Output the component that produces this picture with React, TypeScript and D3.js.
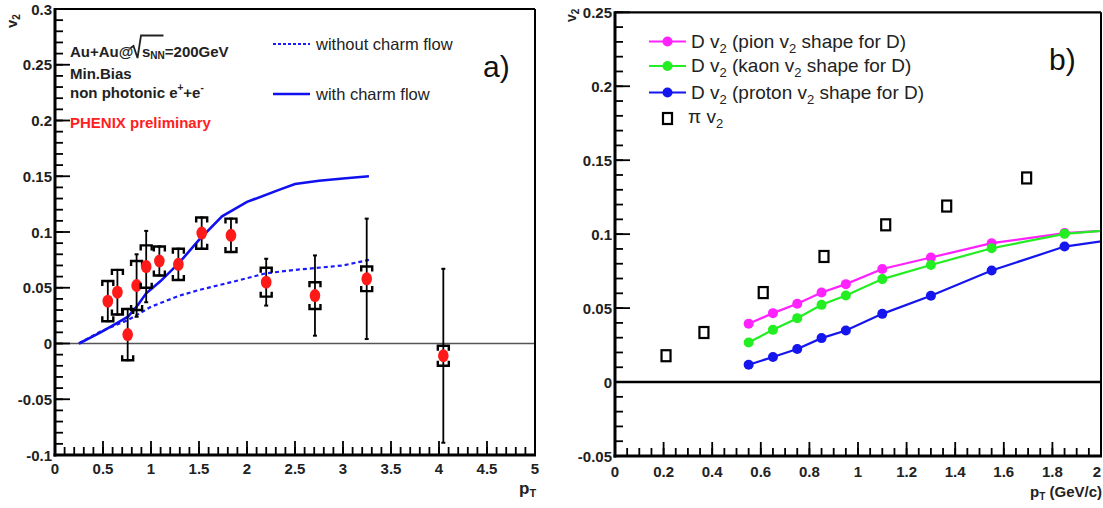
import React from 'react';
import * as d3 from 'd3';

// ---------- Panel a) data ----------
const aPt = [0.55, 0.65, 0.757, 0.85, 0.95, 1.087, 1.285, 1.528, 1.833, 2.2, 2.708, 3.247, 4.045];
const aV2 = [0.038, 0.046, 0.008, 0.052, 0.069, 0.074, 0.071, 0.099, 0.097, 0.055, 0.043, 0.058, -0.011];
const aStat = [0.018, 0.02, 0.023, 0.028, 0.032, 0.013, 0.014, 0.014, 0.015, 0.021, 0.036, 0.054, 0.078];
const aSys = [0.018, 0.02, 0.023, 0.022, 0.019, 0.013, 0.014, 0.014, 0.015, 0.013, 0.012, 0.011, 0.009];

const withPt = [0.25, 0.47, 0.64, 0.76, 0.85, 0.95, 1.1, 1.3, 1.5, 1.74, 2.0, 2.34, 2.5, 2.75, 3.0, 3.27];
const withV2 = [0, 0.0097, 0.018, 0.024, 0.033, 0.045, 0.056, 0.073, 0.093, 0.114, 0.127, 0.138, 0.143, 0.146, 0.148, 0.15];
const withoutPt = [0.25, 0.47, 0.76, 1.0, 1.3, 1.5, 1.86, 2.2, 2.5, 3.0, 3.27];
const withoutV2 = [0, 0.0106, 0.021, 0.033, 0.043, 0.048, 0.0555, 0.063, 0.066, 0.07, 0.075];

const aXMajor = [0, 0.5, 1, 1.5, 2, 2.5, 3, 3.5, 4, 4.5, 5];
const aXLabels = ['0', '0.5', '1', '1.5', '2', '2.5', '3', '3.5', '4', '4.5', '5'];
const aYMajor = [-0.1, -0.05, 0, 0.05, 0.1, 0.15, 0.2, 0.25, 0.3];
const aYLabels = ['-0.1', '-0.05', '0', '0.05', '0.1', '0.15', '0.2', '0.25', '0.3'];

// ---------- Panel b) data ----------
const piPt = [0.21, 0.366, 0.61, 0.86, 1.114, 1.365, 1.694];
const piV2 = [0.0178, 0.0335, 0.0605, 0.0849, 0.1063, 0.119, 0.138];
const dPt = [0.55, 0.65, 0.75, 0.85, 0.95, 1.1, 1.3, 1.55, 1.85, 2.25];
const dPion = [0.0394, 0.0466, 0.0529, 0.0605, 0.0662, 0.0764, 0.0842, 0.0939, 0.1007, 0.1047];
const dKaon = [0.0268, 0.0353, 0.0432, 0.0522, 0.0585, 0.0696, 0.0791, 0.0905, 0.1002, 0.1055];
const dProton = [0.0117, 0.0169, 0.0223, 0.0297, 0.0349, 0.0461, 0.0583, 0.0754, 0.0916, 0.1011];

const bXMajor = [0, 0.2, 0.4, 0.6, 0.8, 1, 1.2, 1.4, 1.6, 1.8, 2];
const bXLabels = ['0', '0.2', '0.4', '0.6', '0.8', '1', '1.2', '1.4', '1.6', '1.8', '2'];
const bYMajor = [-0.05, 0, 0.05, 0.1, 0.15, 0.2, 0.25];
const bYLabels = ['-0.05', '0', '0.05', '0.1', '0.15', '0.2', '0.25'];

const FONT = '"Liberation Sans", Arial, sans-serif';
const PAGE_W = 1103;

function range(a: number, b: number, step: number) {
  const out: number[] = [];
  const n = Math.round((b - a) / step);
  for (let i = 0; i <= n; i++) out.push(+(a + i * step).toFixed(6));
  return out;
}

function Axes({ x, y, xMajor, xLabels, xMinorStep, yMajor, yLabels, yMinorStep, labelBaseX, labelBaseY }: any) {
  const [x0, x1] = x.range();
  const [y0, y1] = y.range(); // y0 bottom, y1 top
  const [dx0, dx1] = x.domain();
  const [dy0, dy1] = y.domain();
  const xMinor = range(dx0, dx1, xMinorStep);
  const yMinor = range(dy0, dy1, yMinorStep);
  return (
    <g>
      {xMinor.map((v, i) => (
        <line key={'xm' + i} x1={x(v)} x2={x(v)} y1={y0} y2={y0 - 8} stroke="#000" strokeWidth={1.8} />
      ))}
      {xMajor.map((v: number, i: number) => (
        <line key={'xM' + i} x1={x(v)} x2={x(v)} y1={y0} y2={y0 - 14} stroke="#000" strokeWidth={1.8} />
      ))}
      {yMinor.map((v, i) => (
        <line key={'ym' + i} x1={x0} x2={x0 + 8} y1={y(v)} y2={y(v)} stroke="#000" strokeWidth={1.8} />
      ))}
      {yMajor.map((v: number, i: number) => (
        <line key={'yM' + i} x1={x0} x2={x0 + 15} y1={y(v)} y2={y(v)} stroke="#000" strokeWidth={1.8} />
      ))}
      <line x1={x0} x2={x1} y1={y1} y2={y1} stroke="#000" strokeWidth={2.2} />
      <line x1={x1} x2={x1} y1={y1} y2={y0} stroke="#000" strokeWidth={2} />
      <line x1={x0 - 1.5} x2={x1 + 1} y1={y0} y2={y0} stroke="#000" strokeWidth={3} />
      <line x1={x0} x2={x0} y1={y1 - 1} y2={y0 + 1.5} stroke="#000" strokeWidth={3} />
      {xMajor.map((v: number, i: number) => (
        <text key={'xl' + i} x={Math.min(x(v), PAGE_W - 6)} y={labelBaseY} textAnchor="middle" fontFamily={FONT} fontWeight="bold" fontSize={15} fill="#222">
          {xLabels[i]}
        </text>
      ))}
      {yMajor.map((v: number, i: number) => (
        <text key={'yl' + i} x={labelBaseX} y={y(v) + 5.5} textAnchor="end" fontFamily={FONT} fontWeight="bold" fontSize={15} fill="#222">
          {yLabels[i]}
        </text>
      ))}
    </g>
  );
}

function PanelA() {
  const x = d3.scaleLinear().domain([0, 5]).range([55, 535]);
  const y = d3.scaleLinear().domain([-0.1, 0.3]).range([455, 9]);
  const line = d3.line<[number, number]>().x((d) => x(d[0])).y((d) => y(d[1]));
  const withPath = line(withPt.map((p, i) => [p, withV2[i]]) as [number, number][]) || '';
  const withoutPath = line(withoutPt.map((p, i) => [p, withoutV2[i]]) as [number, number][]) || '';
  return (
    <g>
      <line x1={x(0)} x2={x(5)} y1={y(0)} y2={y(0)} stroke="#555" strokeWidth={1.6} />
      <path d={withoutPath} fill="none" stroke="#1a1aff" strokeWidth={2.2} strokeDasharray="4,3" />
      <path d={withPath} fill="none" stroke="#1010f0" strokeWidth={2.6} />
      {aPt.map((p, i) => {
        const cx = x(p);
        const cy = y(aV2[i]);
        const st = y(aV2[i] + aStat[i]);
        const sb = y(aV2[i] - aStat[i]);
        const yt = y(aV2[i] + aSys[i]);
        const yb = y(aV2[i] - aSys[i]);
        const w = 5.5;
        return (
          <g key={i}>
            <line x1={cx} x2={cx} y1={st} y2={sb} stroke="#000" strokeWidth={1.8} />
            <line x1={cx - 2} x2={cx + 2} y1={st} y2={st} stroke="#000" strokeWidth={2} />
            <line x1={cx - 2} x2={cx + 2} y1={sb} y2={sb} stroke="#000" strokeWidth={2} />
            <path d={`M${cx - w},${yt + 5}V${yt}H${cx + w}V${yt + 5}`} fill="none" stroke="#000" strokeWidth={2.4} />
            <path d={`M${cx - w},${yb - 5}V${yb}H${cx + w}V${yb - 5}`} fill="none" stroke="#000" strokeWidth={2.4} />
            <ellipse cx={cx} cy={cy} rx={5.3} ry={6.5} fill="#ff1a1a" />
          </g>
        );
      })}
      <Axes x={x} y={y} xMajor={aXMajor} xLabels={aXLabels} xMinorStep={0.1} yMajor={aYMajor} yLabels={aYLabels} yMinorStep={0.01} labelBaseX={52} labelBaseY={474} />
      {/* info text */}
      <g fontFamily={FONT} fontWeight="bold" fontSize={15} fill="#222">
        <text x={70} y={57}>Au+Au@</text>
        <path d="M130.5,48 L133.5,46 L137.5,58 L141,35.5 H163.5" fill="none" stroke="#222" strokeWidth={1.8} />
        <text x={142} y={57}>s<tspan fontSize={10} dy={2}>NN</tspan><tspan dy={-2}>=200GeV</tspan></text>
        <text x={70} y={79}>Min.Bias</text>
        <text x={70} y={98}>non photonic e<tspan fontSize={10} dy={-7}>+</tspan><tspan dy={7}>+e</tspan><tspan fontSize={10} dy={-7}>-</tspan></text>
        <text x={70} y={128} fill="#ff2020">PHENIX preliminary</text>
      </g>
      {/* legend */}
      <line x1={273} x2={310} y1={44} y2={44} stroke="#1a1aff" strokeWidth={1.8} strokeDasharray="3,2" />
      <text x={316} y={49.5} fontFamily={FONT} fontSize={16.5} fill="#222">without charm flow</text>
      <line x1={273} x2={310} y1={94} y2={94} stroke="#1010f0" strokeWidth={2.6} />
      <text x={316} y={99.5} fontFamily={FONT} fontSize={16.5} fill="#222">with charm flow</text>
      <text x={483} y={77} fontFamily={FONT} fontSize={30} fill="#111">a)</text>
      {/* axis titles */}
      <text transform="translate(17,28) rotate(-90)" fontFamily={FONT} fontWeight="bold" fontSize={15} fill="#222">v<tspan fontSize={10} dy={3}>2</tspan></text>
      <text x={519} y={494} fontFamily={FONT} fontWeight="bold" fontSize={17} fill="#222">p<tspan fontSize={11} dy={3}>T</tspan></text>
    </g>
  );
}

function PanelB() {
  const x = d3.scaleLinear().domain([0, 2]).range([615, 1101]);
  const y = d3.scaleLinear().domain([-0.05, 0.25]).range([456, 12.3]);
  const line = d3.line<[number, number]>().x((d) => x(d[0])).y((d) => y(d[1]));
  const series = [
    { vals: dPion, color: '#ff22ff' },
    { vals: dKaon, color: '#22ee22' },
    { vals: dProton, color: '#1515ee' },
  ];
  const legendRows = [
    { color: '#ff22ff', name: 'pion', y: 41.5 },
    { color: '#22ee22', name: 'kaon', y: 66 },
    { color: '#1515ee', name: 'proton', y: 92.5 },
  ];
  return (
    <g>
      <defs>
        <clipPath id="clipB">
          <rect x={615} y={12.3} width={486} height={443.7} />
        </clipPath>
      </defs>
      <line x1={x(0)} x2={x(2)} y1={y(0)} y2={y(0)} stroke="#000" strokeWidth={2.6} />
      <g clipPath="url(#clipB)">
        {series.map((s, si) => (
          <g key={si}>
            <path d={line(dPt.map((p, i) => [p, s.vals[i]]) as [number, number][]) || ''} fill="none" stroke={s.color} strokeWidth={2.2} />
            {dPt.map((p, i) => (
              <circle key={i} cx={x(p)} cy={y(s.vals[i])} r={5} fill={s.color} />
            ))}
          </g>
        ))}
        {piPt.map((p, i) => (
          <rect key={i} x={x(p) - 4.5} y={y(piV2[i]) - 5.5} width={9} height={11} fill="#fff" stroke="#000" strokeWidth={2.2} />
        ))}
      </g>
      <Axes x={x} y={y} xMajor={bXMajor} xLabels={bXLabels} xMinorStep={0.05} yMajor={bYMajor} yLabels={bYLabels} yMinorStep={0.01} labelBaseX={612} labelBaseY={477} />
      {/* legend */}
      {legendRows.map((r, i) => (
        <g key={i}>
          <line x1={649} x2={686} y1={r.y} y2={r.y} stroke={r.color} strokeWidth={2.2} />
          <circle cx={667.5} cy={r.y} r={5} fill={r.color} />
          <text x={691} y={r.y + 6} fontFamily={FONT} fontSize={19} fill="#222">
            D v<tspan fontSize={13} dy={5}>2</tspan><tspan dy={-5}> ({r.name} v</tspan><tspan fontSize={13} dy={5}>2</tspan><tspan dy={-5}> shape for D)</tspan>
          </text>
        </g>
      ))}
      <rect x={663} y={113} width={9} height={11} fill="#fff" stroke="#000" strokeWidth={2.2} />
      <text x={688} y={123} fontFamily={FONT} fontSize={19} fill="#222">π v<tspan fontSize={13} dy={5}>2</tspan></text>
      <text x={1049} y={70} fontFamily={FONT} fontSize={30} fill="#111">b)</text>
      {/* axis titles */}
      <text transform="translate(576,22) rotate(-90)" fontFamily={FONT} fontWeight="bold" fontSize={14} fill="#222">v<tspan fontSize={10} dy={3}>2</tspan></text>
      <text x={1102} y={497} textAnchor="end" fontFamily={FONT} fontWeight="bold" fontSize={15} fill="#222">p<tspan fontSize={10} dy={3}>T</tspan><tspan dy={-3}> (GeV/c)</tspan></text>
    </g>
  );
}

export default function App() {
  return (
    <svg width={1103} height={508} style={{ position: 'absolute', left: 0, top: 0, background: '#fff' }}>
      <rect x={0} y={0} width={1103} height={508} fill="#fff" />
      <PanelA />
      <PanelB />
    </svg>
  );
}
